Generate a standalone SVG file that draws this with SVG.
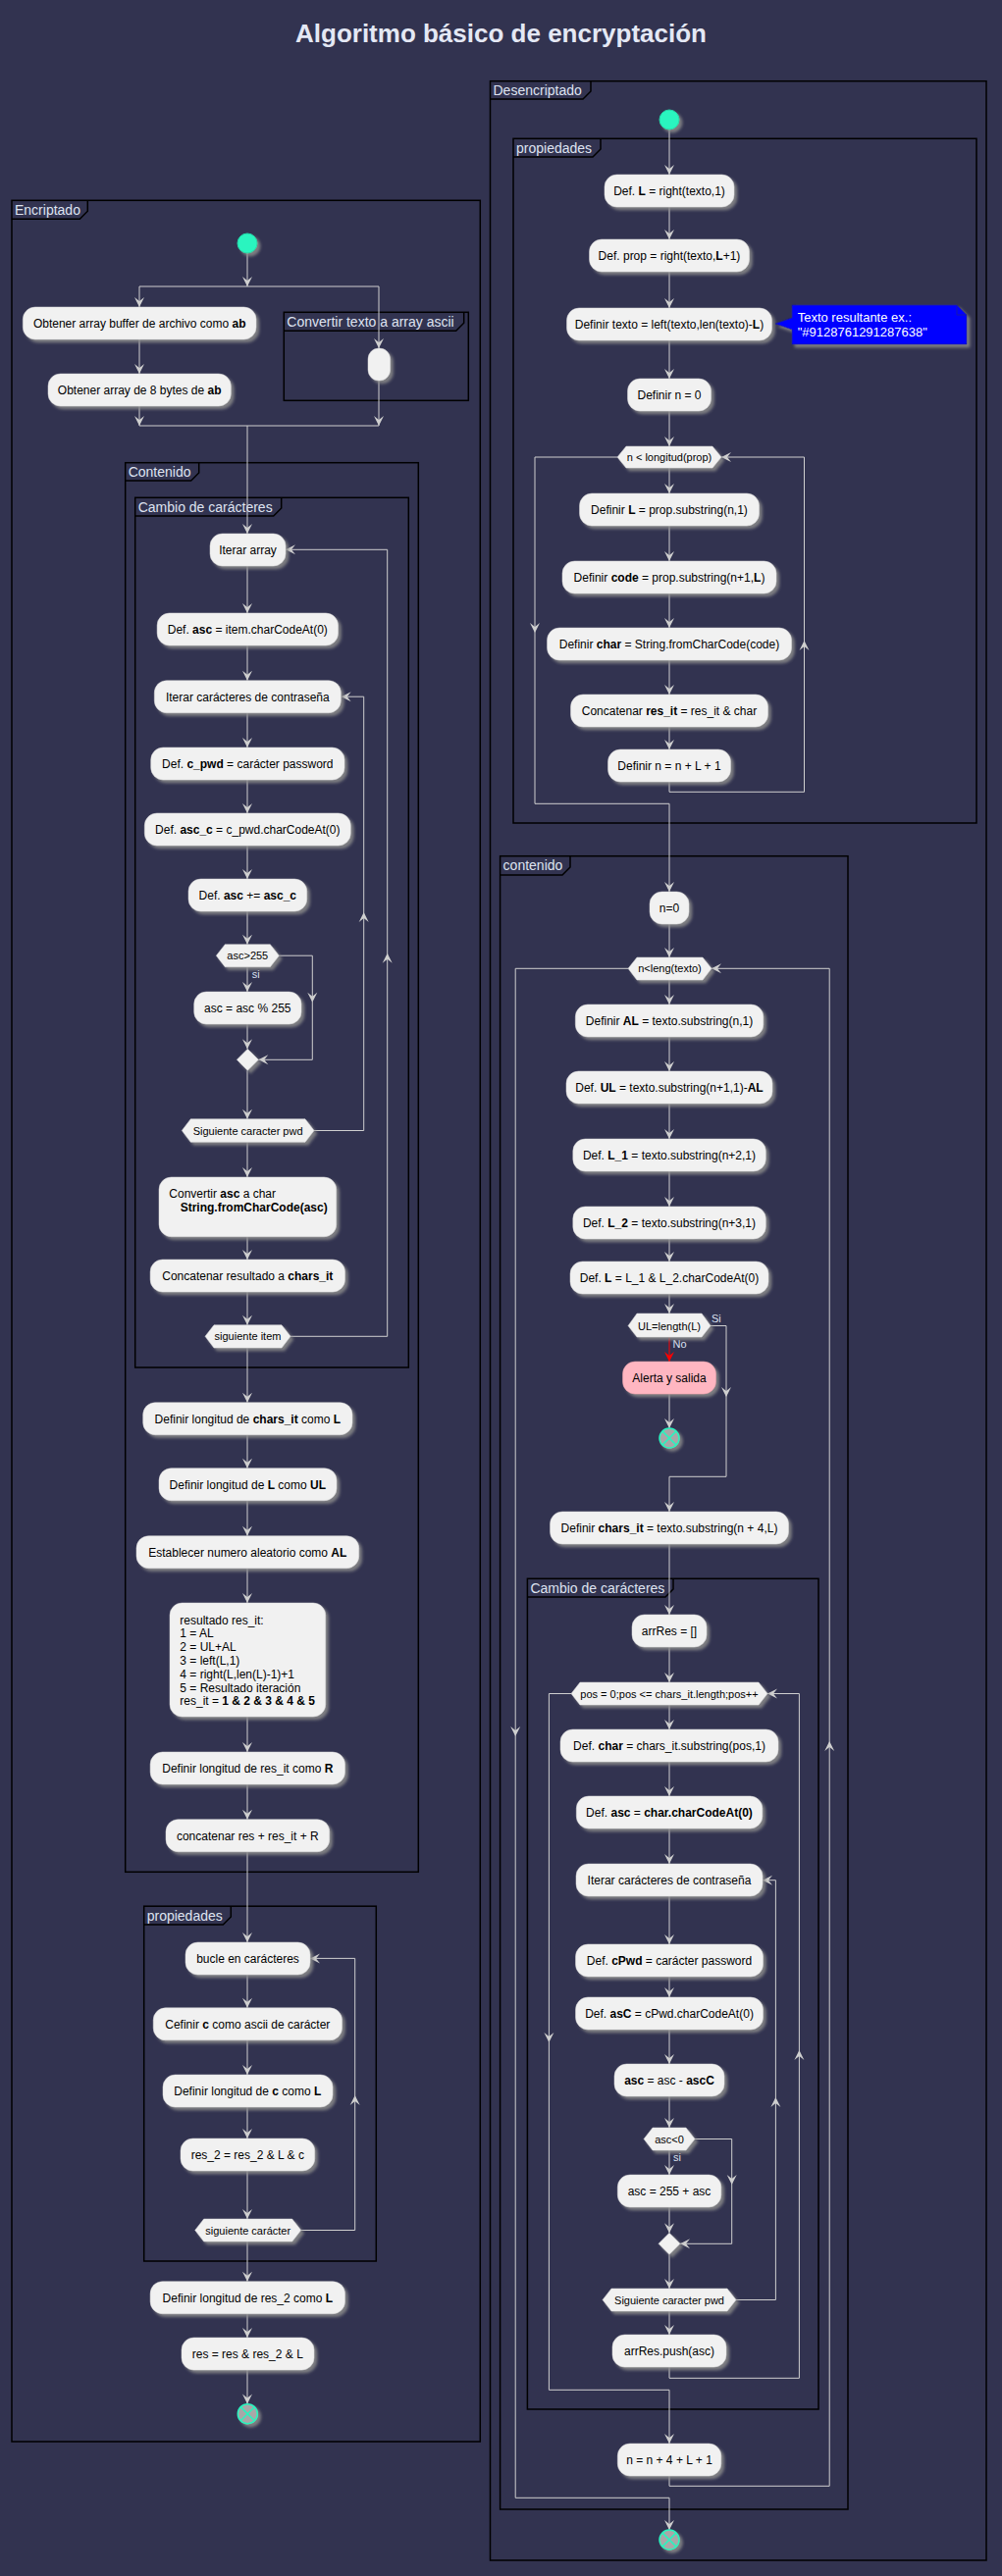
<svg xmlns="http://www.w3.org/2000/svg" xmlns:xlink="http://www.w3.org/1999/xlink" width="1021" height="2626" viewBox="0 0 1021 2626">
<style>
text{font-family:"Liberation Sans",Arial,sans-serif}
.frame{fill:none;stroke:#000;stroke-width:1.5}
.tab{fill:none;stroke:#000;stroke-width:1.5}
.ft{font-size:14px;fill:#dfe3f0}
.act{fill:#f1f1f1;stroke:#d8d8d8;stroke-width:0.5;filter:url(#sh)}
.alert{fill:#ffb6c1;stroke:#e8a0aa;stroke-width:0.5;filter:url(#sh)}
.t{font-size:12px;fill:#000;text-anchor:middle}
.tl{font-size:12px;fill:#000}
.ht{font-size:11px;fill:#000;text-anchor:middle}
.b{font-weight:bold}
.ln{fill:none;stroke:#cfcfcf;stroke-width:1}
.red{fill:none;stroke:#ff0000;stroke-width:1}
.ah{fill:#cfcfcf}
.ahr{fill:#ff0000}
.lbl{font-size:11px;fill:#dde2f0}
.start{fill:#29f4bf;stroke:#22d8a8;stroke-width:1;filter:url(#sh)}
.stop{fill:#a8a8a8;stroke:#29f4bf;stroke-width:1.5;filter:url(#sh)}
.stopx{stroke:#29f4bf;stroke-width:1.5}
</style>
<defs>
<filter id="sh" x="-20%" y="-30%" width="150%" height="180%">
<feDropShadow dx="3" dy="3" stdDeviation="1.5" flood-color="#8a8a8a" flood-opacity="0.85"/>
</filter>
<path id="ah" d="M0,0 L-5,-10 L0,-6 L5,-10 Z"/>
</defs>
<rect x="0" y="0" width="1021" height="2626" fill="#323350"/>
<text x="510.5" y="43" text-anchor="middle" font-size="26" font-weight="bold" fill="#e4e8f4">Algoritmo básico de encryptación</text>

<!-- Frames -->
<g id="frames">
<g id="f-encriptado"><rect class="frame" x="12" y="204.3" width="477.3" height="2284.7"/><path class="tab" d="M12,223.3 H81.3 L89.3,215.3 V204.3"/><text class="ft" x="15" y="218.8">Encriptado</text></g>
<g id="f-convertir"><rect class="frame" x="289.3" y="318.3" width="188" height="90"/><path class="tab" d="M289.3,337.3 H464.7 L472.7,329.3 V318.3"/><text class="ft" x="292.3" y="332.8">Convertir texto a array ascii</text></g>
<g id="f-contenido-l"><rect class="frame" x="127.7" y="471.7" width="298.6" height="1436.6"/><path class="tab" d="M127.7,490 H194.7 L202.7,482 V471.7"/><text class="ft" x="130.7" y="486.2">Contenido</text></g>
<g id="f-cambio-l"><rect class="frame" x="137.7" y="507.3" width="278.6" height="886.7"/><path class="tab" d="M137.7,526 H278.7 L286.7,518 V507.3"/><text class="ft" x="140.7" y="521.8">Cambio de carácteres</text></g>
<g id="f-propiedades-l"><rect class="frame" x="146.7" y="1943.2" width="236.6" height="361.8"/><path class="tab" d="M146.7,1962 H227.3 L235.3,1954 V1943.2"/><text class="ft" x="149.7" y="1957.7">propiedades</text></g>
<g id="f-desencriptado"><rect class="frame" x="499.5" y="82.7" width="505.5" height="2527.3"/><path class="tab" d="M499.5,101 H594 L602,93 V82.7"/><text class="ft" x="502.5" y="97.2">Desencriptado</text></g>
<g id="f-propiedades-r"><rect class="frame" x="523" y="141.3" width="472" height="697.7"/><path class="tab" d="M523,160 H604 L612,152 V141.3"/><text class="ft" x="526" y="155.8">propiedades</text></g>
<g id="f-contenido-r"><rect class="frame" x="509.6" y="872.7" width="354.4" height="1685.3"/><path class="tab" d="M509.6,892 H573 L581,884 V872.7"/><text class="ft" x="512.6" y="887.2">contenido</text></g>
<g id="f-cambio-r"><rect class="frame" x="537.4" y="1609.3" width="296.6" height="846.7"/><path class="tab" d="M537.4,1628 H678 L686,1620 V1609.3"/><text class="ft" x="540.4" y="1623.8">Cambio de carácteres</text></g>
</g>

<!-- Connectors -->
<g id="connectors">
<path class="ln" d="M252,258 V292 M142,292 H386 M142,292 V313 M142,346 V381 M142,414 V434 M386,292 V355 M386,388 V434 M142,434 H386 M252,434 V544 M252,577 V625 M252,658 V693.7 M252,726.7 V762 M252,795 V829 M252,862 V896 M252,929 V962.7 M252,985.7 V1011 M284.3,974.2 H318.3 V1080.3 H263.3 M252,1044 V1069.3 M252,1091.3 V1140.7 M320,1152.5 H370.7 V710.2 H347.7 M252,1164.3 V1200 M252,1260.7 V1284 M252,1317 V1350.7 M296,1362.3 H394.7 V560.3 H291 M252,1374 V1429.7 M252,1462.7 V1496.7 M252,1530 V1565.7 M252,1599 V1634 M252,1750 V1786 M252,1819 V1854.7 M252,1887.7 V1980 M252,2013 V2046.8 M252,2079.8 V2115 M252,2148 V2180 M252,2213 V2262 M306.7,2273.5 H361.7 V1996.4 H316 M252,2285 V2325.7 M252,2358.7 V2383 M252,2416 V2450.5"/>
<path class="ln" d="M682,132 V178 M682,211 V244 M682,277 V314 M682,347 V386 M682,419 V455 M682,477 V503 M682,536 V572 M682,605 V640 M682,673 V708 M682,741 V764 M682,797 V807.3 H819.5 V466 H735 M629,466 H545 V819.3 H682 V909 M682,942 V976 M682,999 V1024 M682,1057 V1092 M682,1125 V1161 M682,1194 V1230 M682,1263 V1286 M682,1319 V1339 M682,1421 V1456 M724,1351.5 H740 V1505.3 H682 V1541 M682,1574 V1646 M682,1679 V1715 M682,1738 V1763 M682,1796 V1831 M682,1864 V1900 M682,1933 V1982 M682,2015 V2036 M682,2069 V2104 M682,2137 V2169 M682,2192 V2217 M682,2250 V2276.3 M708,2180.5 H745.7 V2287.3 H693 M682,2298.3 V2333 M750,2344.5 H790.4 V1916.7 H777 M682,2356 V2380 M682,2413 V2424.3 H814.4 V1726.5 H782 M582,1726.5 H559.4 V2436.3 H682 V2491 M682,2524 V2534.3 H845.2 V987.3 H725 M640,987.3 H525.2 V2546.3 H682 V2579"/>
<path class="red" d="M682,1363 V1388"/>
<g class="ah">
<use xlink:href="#ah" transform="translate(252,292)"/>
<use xlink:href="#ah" transform="translate(142,313)"/>
<use xlink:href="#ah" transform="translate(142,381)"/>
<use xlink:href="#ah" transform="translate(142,434)"/>
<use xlink:href="#ah" transform="translate(386,355)"/>
<use xlink:href="#ah" transform="translate(386,434)"/>
<use xlink:href="#ah" transform="translate(252,544)"/>
<use xlink:href="#ah" transform="translate(252,625)"/>
<use xlink:href="#ah" transform="translate(252,693.7)"/>
<use xlink:href="#ah" transform="translate(252,762)"/>
<use xlink:href="#ah" transform="translate(252,829)"/>
<use xlink:href="#ah" transform="translate(252,896)"/>
<use xlink:href="#ah" transform="translate(252,962.7)"/>
<use xlink:href="#ah" transform="translate(252,1011)"/>
<use xlink:href="#ah" transform="translate(318.3,1021.7)"/>
<use xlink:href="#ah" transform="translate(263.3,1080.3) rotate(90)"/>
<use xlink:href="#ah" transform="translate(252,1069.3)"/>
<use xlink:href="#ah" transform="translate(252,1140.7)"/>
<use xlink:href="#ah" transform="translate(370.7,930) rotate(180)"/>
<use xlink:href="#ah" transform="translate(347.7,710.2) rotate(90)"/>
<use xlink:href="#ah" transform="translate(252,1200)"/>
<use xlink:href="#ah" transform="translate(252,1284)"/>
<use xlink:href="#ah" transform="translate(252,1350.7)"/>
<use xlink:href="#ah" transform="translate(394.7,971.7) rotate(180)"/>
<use xlink:href="#ah" transform="translate(291,560.3) rotate(90)"/>
<use xlink:href="#ah" transform="translate(252,1429.7)"/>
<use xlink:href="#ah" transform="translate(252,1496.7)"/>
<use xlink:href="#ah" transform="translate(252,1565.7)"/>
<use xlink:href="#ah" transform="translate(252,1634)"/>
<use xlink:href="#ah" transform="translate(252,1786)"/>
<use xlink:href="#ah" transform="translate(252,1854.7)"/>
<use xlink:href="#ah" transform="translate(252,1980)"/>
<use xlink:href="#ah" transform="translate(252,2046.8)"/>
<use xlink:href="#ah" transform="translate(252,2115)"/>
<use xlink:href="#ah" transform="translate(252,2180)"/>
<use xlink:href="#ah" transform="translate(252,2262)"/>
<use xlink:href="#ah" transform="translate(361.7,2136) rotate(180)"/>
<use xlink:href="#ah" transform="translate(316,1996.4) rotate(90)"/>
<use xlink:href="#ah" transform="translate(252,2325.7)"/>
<use xlink:href="#ah" transform="translate(252,2383)"/>
<use xlink:href="#ah" transform="translate(252,2450.5)"/>
<use xlink:href="#ah" transform="translate(682,178)"/>
<use xlink:href="#ah" transform="translate(682,244)"/>
<use xlink:href="#ah" transform="translate(682,314)"/>
<use xlink:href="#ah" transform="translate(682,386)"/>
<use xlink:href="#ah" transform="translate(682,455)"/>
<use xlink:href="#ah" transform="translate(682,503)"/>
<use xlink:href="#ah" transform="translate(682,572)"/>
<use xlink:href="#ah" transform="translate(682,640)"/>
<use xlink:href="#ah" transform="translate(682,708)"/>
<use xlink:href="#ah" transform="translate(682,764)"/>
<use xlink:href="#ah" transform="translate(819.5,653) rotate(180)"/>
<use xlink:href="#ah" transform="translate(735,466) rotate(90)"/>
<use xlink:href="#ah" transform="translate(545,645)"/>
<use xlink:href="#ah" transform="translate(682,909)"/>
<use xlink:href="#ah" transform="translate(682,976)"/>
<use xlink:href="#ah" transform="translate(682,1024)"/>
<use xlink:href="#ah" transform="translate(682,1092)"/>
<use xlink:href="#ah" transform="translate(682,1161)"/>
<use xlink:href="#ah" transform="translate(682,1230)"/>
<use xlink:href="#ah" transform="translate(682,1286)"/>
<use xlink:href="#ah" transform="translate(682,1339)"/>
<use xlink:href="#ah" transform="translate(682,1456)"/>
<use xlink:href="#ah" transform="translate(740,1424)"/>
<use xlink:href="#ah" transform="translate(682,1541)"/>
<use xlink:href="#ah" transform="translate(682,1646)"/>
<use xlink:href="#ah" transform="translate(682,1715)"/>
<use xlink:href="#ah" transform="translate(682,1763)"/>
<use xlink:href="#ah" transform="translate(682,1831)"/>
<use xlink:href="#ah" transform="translate(682,1900)"/>
<use xlink:href="#ah" transform="translate(682,1982)"/>
<use xlink:href="#ah" transform="translate(682,2036)"/>
<use xlink:href="#ah" transform="translate(682,2104)"/>
<use xlink:href="#ah" transform="translate(682,2169)"/>
<use xlink:href="#ah" transform="translate(682,2217)"/>
<use xlink:href="#ah" transform="translate(745.7,2227)"/>
<use xlink:href="#ah" transform="translate(693,2287.3) rotate(90)"/>
<use xlink:href="#ah" transform="translate(682,2276.3)"/>
<use xlink:href="#ah" transform="translate(682,2333)"/>
<use xlink:href="#ah" transform="translate(790.4,2138) rotate(180)"/>
<use xlink:href="#ah" transform="translate(777,1916.7) rotate(90)"/>
<use xlink:href="#ah" transform="translate(682,2380)"/>
<use xlink:href="#ah" transform="translate(814.4,2090) rotate(180)"/>
<use xlink:href="#ah" transform="translate(782,1726.5) rotate(90)"/>
<use xlink:href="#ah" transform="translate(559.4,2082)"/>
<use xlink:href="#ah" transform="translate(682,2491)"/>
<use xlink:href="#ah" transform="translate(845.2,1775) rotate(180)"/>
<use xlink:href="#ah" transform="translate(725,987.3) rotate(90)"/>
<use xlink:href="#ah" transform="translate(525.2,1770)"/>
<use xlink:href="#ah" transform="translate(682,2579)"/>
</g>
<use class="ahr" xlink:href="#ah" transform="translate(682,1388)"/>
<text class="lbl" x="256.7" y="996.7">si</text>
<text class="lbl" x="725" y="1348">Si</text>
<text class="lbl" x="685.5" y="1374">No</text>
<text class="lbl" x="686" y="2203">si</text>
</g>

<!-- Left column nodes -->
<g id="start-l"><circle class="start" cx="252" cy="248" r="10"/></g>
<g id="l-obtener-buffer"><rect class="act" x="23.3" y="313" width="237.7" height="33" rx="12.5"/><text class="t" x="142.2" y="334">Obtener array buffer de archivo como <tspan class="b">ab</tspan></text></g>
<g id="l-obtener-8"><rect class="act" x="49" y="381" width="186.3" height="33" rx="12.5"/><text class="t" x="142.2" y="402">Obtener array de 8 bytes de <tspan class="b">ab</tspan></text></g>
<g id="l-convertir-empty"><rect class="act" x="375" y="355" width="22.6" height="33" rx="11"/></g>
<g id="l-iterar-array"><rect class="act" x="214" y="544" width="77" height="33" rx="12.5"/><text class="t" x="252.5" y="565">Iterar array</text></g>
<g id="l-def-asc"><rect class="act" x="160.1" y="625" width="184.4" height="33" rx="12.5"/><text class="t" x="252.3" y="646">Def. <tspan class="b">asc</tspan> = item.charCodeAt(0)</text></g>
<g id="l-iterar-car"><rect class="act" x="157.3" y="693.7" width="190" height="33" rx="12.5"/><text class="t" x="252.3" y="714.7">Iterar carácteres de contraseña</text></g>
<g id="l-cpwd"><rect class="act" x="153.7" y="762" width="197.3" height="33" rx="12.5"/><text class="t" x="252.3" y="783">Def. <tspan class="b">c_pwd</tspan> = carácter password</text></g>
<g id="l-ascc"><rect class="act" x="147.3" y="829" width="210" height="33" rx="12.5"/><text class="t" x="252.3" y="850">Def. <tspan class="b">asc_c</tspan> = c_pwd.charCodeAt(0)</text></g>
<g id="l-ascplus"><rect class="act" x="192" y="896" width="120.7" height="33" rx="12.5"/><text class="t" x="252.3" y="917">Def. <tspan class="b">asc</tspan> += <tspan class="b">asc_c</tspan></text></g>
<g id="l-if255"><polygon class="act" points="220.3,974.2 229.3,962.7 275.3,962.7 284.3,974.2 275.3,985.7 229.3,985.7"/><text class="ht" x="252.3" y="978.2">asc&gt;255</text></g>
<g id="l-mod"><rect class="act" x="197.7" y="1011" width="109.3" height="33" rx="12.5"/><text class="t" x="252.3" y="1032">asc = asc % 255</text></g>
<g id="l-merge"><polygon class="act" points="252.3,1069.3 263.3,1080.3 252.3,1091.3 241.3,1080.3"/></g>
<g id="l-sig-pwd"><polygon class="act" points="185.3,1152.5 194.3,1140.7 311,1140.7 320,1152.5 311,1164.3 194.3,1164.3"/><text class="ht" x="252.6" y="1156.5">Siguiente caracter pwd</text></g>
<g id="l-convertir"><rect class="act" x="162" y="1200" width="180.7" height="60.7" rx="12.5"/><text class="tl" x="172.3" y="1220.7">Convertir <tspan class="b">asc</tspan> a char</text><text class="tl b" x="183.7" y="1235">String.fromCharCode(asc)</text></g>
<g id="l-concat"><rect class="act" x="153.1" y="1284" width="198.4" height="33" rx="12.5"/><text class="t" x="252.3" y="1305">Concatenar resultado a <tspan class="b">chars_it</tspan></text></g>
<g id="l-sig-item"><polygon class="act" points="209,1362.3 218,1350.7 287,1350.7 296,1362.3 287,1374 218,1374"/><text class="ht" x="252.5" y="1366.3">siguiente item</text></g>
<g id="l-long-chars"><rect class="act" x="145.7" y="1429.7" width="213.3" height="33" rx="12.5"/><text class="t" x="252.3" y="1450.7">Definir longitud de <tspan class="b">chars_it</tspan> como <tspan class="b">L</tspan></text></g>
<g id="l-long-L"><rect class="act" x="162" y="1496.7" width="181" height="33" rx="12.5"/><text class="t" x="252.3" y="1517.7">Definir longitud de <tspan class="b">L</tspan> como <tspan class="b">UL</tspan></text></g>
<g id="l-aleatorio"><rect class="act" x="139" y="1565.7" width="226.7" height="33" rx="12.5"/><text class="t" x="252.3" y="1586.7">Establecer numero aleatorio como <tspan class="b">AL</tspan></text></g>
<g id="l-resultado"><rect class="act" x="173" y="1634" width="158.7" height="116" rx="12.5"/>
<text class="tl" x="183.3" y="1655.5">resultado res_it:</text>
<text class="tl" x="183.3" y="1669.3">1 = AL</text>
<text class="tl" x="183.3" y="1683.1">2 = UL+AL</text>
<text class="tl" x="183.3" y="1696.9">3 = left(L,1)</text>
<text class="tl" x="183.3" y="1710.7">4 = right(L,len(L)-1)+1</text>
<text class="tl" x="183.3" y="1724.5">5 = Resultado iteración</text>
<text class="tl" x="183.3" y="1738.3">res_it = <tspan class="b">1 &amp; 2 &amp; 3 &amp; 4 &amp; 5</tspan></text></g>
<g id="l-long-res"><rect class="act" x="153.1" y="1786" width="198.4" height="33" rx="12.5"/><text class="t" x="252.3" y="1807">Definir longitud de res_it como <tspan class="b">R</tspan></text></g>
<g id="l-concat-res"><rect class="act" x="169" y="1854.7" width="166.7" height="33" rx="12.5"/><text class="t" x="252.3" y="1875.7">concatenar res + res_it + R</text></g>
<g id="l-bucle"><rect class="act" x="189" y="1980" width="127" height="33" rx="12.5"/><text class="t" x="252.5" y="2001">bucle en carácteres</text></g>
<g id="l-cefinir"><rect class="act" x="156.2" y="2046.8" width="192.3" height="33" rx="12.5"/><text class="t" x="252.3" y="2067.8">Cefinir <tspan class="b">c</tspan> como ascii de carácter</text></g>
<g id="l-long-c"><rect class="act" x="166" y="2115" width="173" height="33" rx="12.5"/><text class="t" x="252.3" y="2136">Definir longitud de <tspan class="b">c</tspan> como <tspan class="b">L</tspan></text></g>
<g id="l-res2"><rect class="act" x="184" y="2180" width="136.7" height="33" rx="12.5"/><text class="t" x="252.3" y="2201">res_2 = res_2 &amp; L &amp; c</text></g>
<g id="l-sig-car"><polygon class="act" points="198.7,2273.5 207.7,2262 297.7,2262 306.7,2273.5 297.7,2285 207.7,2285"/><text class="ht" x="252.7" y="2277.5">siguiente carácter</text></g>
<g id="l-long-res2"><rect class="act" x="153.1" y="2325.7" width="198.4" height="33" rx="12.5"/><text class="t" x="252.3" y="2346.7">Definir longitud de res_2 como <tspan class="b">L</tspan></text></g>
<g id="l-res"><rect class="act" x="185" y="2383" width="135" height="33" rx="12.5"/><text class="t" x="252.3" y="2404">res = res &amp; res_2 &amp; L</text></g>
<g id="stop-l"><circle class="stop" cx="252.3" cy="2460.7" r="10"/><path class="stopx" d="M245.2,2453.6 L259.4,2467.8 M259.4,2453.6 L245.2,2467.8"/></g>

<!-- Right column nodes -->
<g id="start-r"><circle class="start" cx="682" cy="122" r="10"/></g>
<g id="r-defL"><rect class="act" x="616" y="178" width="132" height="33" rx="12.5"/><text class="t" x="682" y="199">Def. <tspan class="b">L</tspan> = right(texto,1)</text></g>
<g id="r-prop"><rect class="act" x="600.5" y="244" width="163" height="33" rx="12.5"/><text class="t" x="682" y="265">Def. prop = right(texto,<tspan class="b">L</tspan>+1)</text></g>
<g id="r-texto"><rect class="act" x="577.5" y="314" width="209" height="33" rx="12.5"/><text class="t" x="682" y="335">Definir texto = left(texto,len(texto)-<tspan class="b">L</tspan>)</text></g>
<g id="r-note"><path d="M807,311 H975 L985,321 V351 H807 V336 L790,330 L807,324 Z" fill="#0000ff" stroke="#1c1c9a" stroke-width="0.8" filter="url(#sh)"/><path d="M975,311 V321 H985" fill="none" stroke="#1c1c9a" stroke-width="0.8"/><text x="812.7" y="328.3" font-size="13" fill="#ffffff">Texto resultante ex.:</text><text x="812.7" y="342.7" font-size="13" fill="#ffffff">"#9128761291287638"</text></g>
<g id="r-n0"><rect class="act" x="639.5" y="386" width="85" height="33" rx="12.5"/><text class="t" x="682" y="407">Definir n = 0</text></g>
<g id="r-while-prop"><polygon class="act" points="629,466 638,455 726,455 735,466 726,477 638,477"/><text class="ht" x="682" y="470">n &lt; longitud(prop)</text></g>
<g id="r-defL2"><rect class="act" x="590.5" y="503" width="183" height="33" rx="12.5"/><text class="t" x="682" y="524">Definir <tspan class="b">L</tspan> = prop.substring(n,1)</text></g>
<g id="r-code"><rect class="act" x="573" y="572" width="218" height="33" rx="12.5"/><text class="t" x="682" y="593">Definir <tspan class="b">code</tspan> = prop.substring(n+1,<tspan class="b">L</tspan>)</text></g>
<g id="r-char"><rect class="act" x="557.5" y="640" width="249" height="33" rx="12.5"/><text class="t" x="682" y="661">Definir <tspan class="b">char</tspan> = String.fromCharCode(code)</text></g>
<g id="r-concat"><rect class="act" x="581.5" y="708" width="201" height="33" rx="12.5"/><text class="t" x="682" y="729">Concatenar <tspan class="b">res_it</tspan> = res_it &amp; char</text></g>
<g id="r-nnl"><rect class="act" x="619.5" y="764" width="125" height="33" rx="12.5"/><text class="t" x="682" y="785">Definir n = n + L + 1</text></g>
<g id="r-n0b"><rect class="act" x="662" y="909" width="40" height="33" rx="12.5"/><text class="t" x="682" y="930">n=0</text></g>
<g id="r-while-texto"><polygon class="act" points="640,987.3 649,976 716,976 725,987.3 716,999 649,999"/><text class="ht" x="682.5" y="991.3">n&lt;leng(texto)</text></g>
<g id="r-AL"><rect class="act" x="586.3" y="1024" width="191.5" height="33" rx="12.5"/><text class="t" x="682" y="1045">Definir <tspan class="b">AL</tspan> = texto.substring(n,1)</text></g>
<g id="r-UL"><rect class="act" x="577" y="1092" width="210" height="33" rx="12.5"/><text class="t" x="682" y="1113">Def. <tspan class="b">UL</tspan> = texto.substring(n+1,1)-<tspan class="b">AL</tspan></text></g>
<g id="r-L1"><rect class="act" x="583.8" y="1161" width="196.5" height="33" rx="12.5"/><text class="t" x="682" y="1182">Def. <tspan class="b">L_1</tspan> = texto.substring(n+2,1)</text></g>
<g id="r-L2"><rect class="act" x="583.8" y="1230" width="196.5" height="33" rx="12.5"/><text class="t" x="682" y="1251">Def. <tspan class="b">L_2</tspan> = texto.substring(n+3,1)</text></g>
<g id="r-L"><rect class="act" x="581" y="1286" width="202" height="33" rx="12.5"/><text class="t" x="682" y="1307">Def. <tspan class="b">L</tspan> = L_1 &amp; L_2.charCodeAt(0)</text></g>
<g id="r-if-UL"><polygon class="act" points="640,1351.5 649,1339 715,1339 724,1351.5 715,1363 649,1363"/><text class="ht" x="682" y="1355.5">UL=length(L)</text></g>
<g id="r-alerta"><rect class="alert" x="634.5" y="1388" width="95" height="33" rx="12.5"/><text class="t" x="682" y="1409">Alerta y salida</text></g>
<g id="stop-r1"><circle class="stop" cx="682" cy="1466" r="10"/><path class="stopx" d="M674.9,1458.9 L689.1,1473.1 M689.1,1458.9 L674.9,1473.1"/></g>
<g id="r-chars"><rect class="act" x="560.5" y="1541" width="243" height="33" rx="12.5"/><text class="t" x="682" y="1562">Definir <tspan class="b">chars_it</tspan> = texto.substring(n + 4,L)</text></g>
<g id="r-arrRes"><rect class="act" x="644" y="1646" width="76" height="33" rx="12.5"/><text class="t" x="682" y="1667">arrRes = []</text></g>
<g id="r-for"><polygon class="act" points="582,1726.5 591,1715 773,1715 782,1726.5 773,1738 591,1738"/><text class="ht" x="682" y="1730.5">pos = 0;pos &lt;= chars_it.length;pos++</text></g>
<g id="r-defchar"><rect class="act" x="571" y="1763" width="222" height="33" rx="12.5"/><text class="t" x="682" y="1784">Def. <tspan class="b">char</tspan> = chars_it.substring(pos,1)</text></g>
<g id="r-defasc"><rect class="act" x="587.3" y="1831" width="189.5" height="33" rx="12.5"/><text class="t" x="682" y="1852">Def. <tspan class="b">asc</tspan> = <tspan class="b">char.charCodeAt(0)</tspan></text></g>
<g id="r-iterar"><rect class="act" x="587" y="1900" width="190" height="33" rx="12.5"/><text class="t" x="682" y="1921">Iterar carácteres de contraseña</text></g>
<g id="r-cpwd"><rect class="act" x="586.5" y="1982" width="191" height="33" rx="12.5"/><text class="t" x="682" y="2003">Def. <tspan class="b">cPwd</tspan> = carácter password</text></g>
<g id="r-asC"><rect class="act" x="586.5" y="2036" width="191" height="33" rx="12.5"/><text class="t" x="682" y="2057">Def. <tspan class="b">asC</tspan> = cPwd.charCodeAt(0)</text></g>
<g id="r-sub"><rect class="act" x="626" y="2104" width="112" height="33" rx="12.5"/><text class="t" x="682" y="2125"><tspan class="b">asc</tspan> = asc - <tspan class="b">ascC</tspan></text></g>
<g id="r-if-neg"><polygon class="act" points="656,2180.5 665,2169 699,2169 708,2180.5 699,2192 665,2192"/><text class="ht" x="682" y="2184.5">asc&lt;0</text></g>
<g id="r-add"><rect class="act" x="629.3" y="2217" width="105.5" height="33" rx="12.5"/><text class="t" x="682" y="2238">asc = 255 + asc</text></g>
<g id="r-merge"><polygon class="act" points="682,2276.3 693,2287.3 682,2298.3 671,2287.3"/></g>
<g id="r-sig-pwd"><polygon class="act" points="614,2344.5 623,2333 741,2333 750,2344.5 741,2356 623,2356"/><text class="ht" x="682" y="2348.5">Siguiente caracter pwd</text></g>
<g id="r-push"><rect class="act" x="624" y="2380" width="116" height="33" rx="12.5"/><text class="t" x="682" y="2401">arrRes.push(asc)</text></g>
<g id="r-nn"><rect class="act" x="629.3" y="2491" width="105.5" height="33" rx="12.5"/><text class="t" x="682" y="2512">n = n + 4 + L + 1</text></g>
<g id="stop-r2"><circle class="stop" cx="682" cy="2589" r="10"/><path class="stopx" d="M674.9,2581.9 L689.1,2596.1 M689.1,2581.9 L674.9,2596.1"/></g>
</svg>
